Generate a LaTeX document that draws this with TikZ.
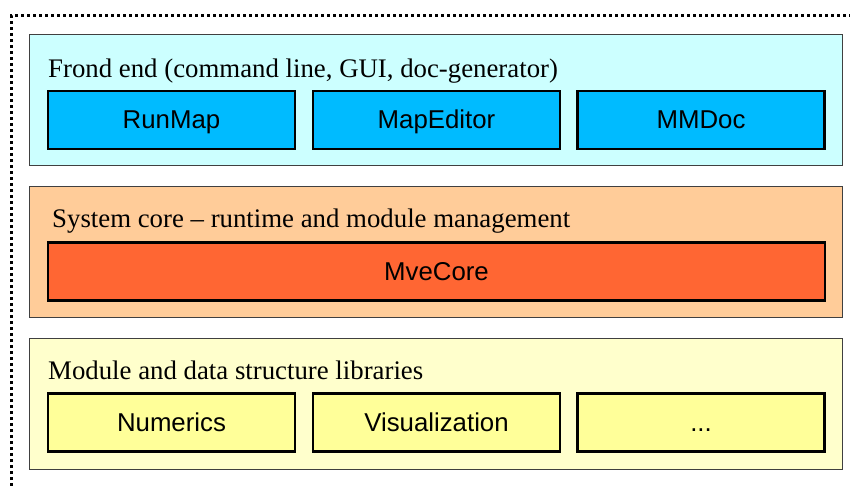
\documentclass[tikz,border=0pt]{standalone}
\usepackage{fontspec}
\setmainfont{Liberation Serif}
\setsansfont{Liberation Sans}
\usepackage{tikz}
\definecolor{FrontBg}{RGB}{204,255,255}
\definecolor{FrontBox}{RGB}{0,187,255}
\definecolor{CoreBg}{RGB}{255,204,153}
\definecolor{CoreBox}{RGB}{255,102,51}
\definecolor{LibBg}{RGB}{255,255,204}
\definecolor{LibBox}{RGB}{255,255,153}
\tikzstyle{Layer}=[rectangle,draw=black!75,line width=1pt,minimum width=813pt,
minimum height=131pt,inner sep=0pt]
\tikzstyle{Block}=[rectangle,draw=black,line width=2.6pt,minimum width=247pt,
minimum height=58pt,inner sep=0pt,text height=21pt,text depth=3pt,
font=\sffamily\fontsize{25.8}{30}\selectfont]
\tikzstyle{LayerTitle}=[anchor=base west,inner sep=0pt,font=\fontsize{26.8}{31}\selectfont]

\begin{document}
\begin{tikzpicture}[x=1pt,y=-1pt]
        \useasboundingbox(0,0)rectangle(850,486);
        % dotted frame, only top and left edges show
        \draw[line width=3pt,dash pattern=on 3pt off 3pt](11,486)--(11,16)--(850,16);
        % front end layer
        \node[Layer,fill=FrontBg](front)at(435.5,100.5){};
        \node[LayerTitle](frontTitle)at(48,78){Frond end (command line, GUI, doc-generator)};
        \node[Block,fill=FrontBox](runmap)at(171.5,120){RunMap};
        \node[Block,fill=FrontBox](mapeditor)at(436.5,120){MapEditor};
        \node[Block,fill=FrontBox](mmdoc)at(701,120){MMDoc};
        % system core layer
        \node[Layer,fill=CoreBg](core)at(435.5,252){};
        \node[LayerTitle](coreTitle)at(52,228){System core -- runtime and module management};
        \node[Block,fill=CoreBox,minimum width=777pt](mvecore)at(436.5,271.5){MveCore};
        % libraries layer
        \node[Layer,fill=LibBg](libs)at(435.5,404){};
        \node[LayerTitle](libsTitle)at(48,379){Module and data structure libraries};
        \node[Block,fill=LibBox](numerics)at(171.5,422.5){Numerics};
        \node[Block,fill=LibBox](visual)at(436.5,422.5){Visualization};
        \node[Block,fill=LibBox](more)at(701,422.5){...};
    \end{tikzpicture}
\end{document}
